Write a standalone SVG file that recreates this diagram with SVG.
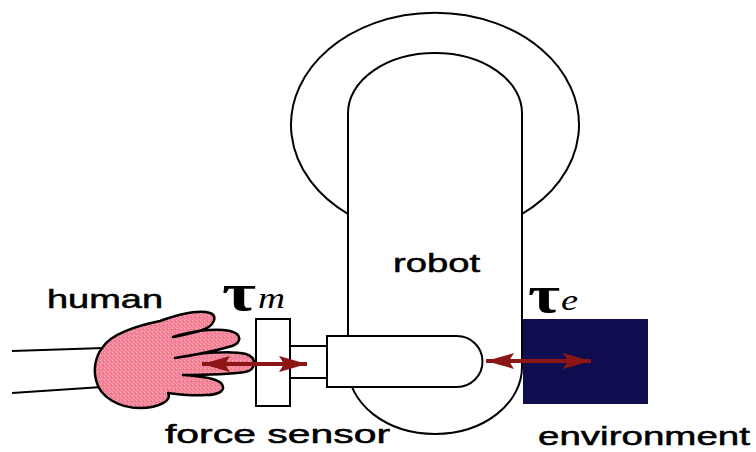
<svg xmlns="http://www.w3.org/2000/svg" width="756" height="452" viewBox="0 0 756 452">
  <style>
    .ol { fill: #ffffff; stroke: #000000; stroke-width: 2; }
    .ln { fill: none; stroke: #000000; stroke-width: 2; }
    .lbl { font-family: "Liberation Sans", Arial, sans-serif; font-size: 25px; fill: #000000; stroke: #000000; stroke-width: 0.5; }
    .tau { font-family: "Liberation Serif", "Times New Roman", serif; font-weight: bold; fill: #000000; }
    .sub { font-family: "Liberation Serif", "Times New Roman", serif; font-style: italic; fill: #000000; }
    .arr { fill: none; stroke: #8c1616; stroke-width: 4; }
  </style>
  <defs>
    <marker id="head" markerUnits="userSpaceOnUse" markerWidth="30" markerHeight="16" refX="28" refY="8" orient="auto-start-reverse">
      <path d="M0,0 L28,8 L0,16 L5,8 Z" fill="#8c1616"/>
    </marker>
    <pattern id="skin" patternUnits="userSpaceOnUse" width="4" height="4">
      <rect width="4" height="4" fill="#f3829f"/>
      <rect x="0" y="0" width="1" height="1" fill="#f9c47e"/>
      <rect x="2" y="2" width="1" height="1" fill="#f7a98a"/>
      <rect x="3" y="1" width="1" height="1" fill="#ea5f92"/>
      <rect x="1" y="3" width="1" height="1" fill="#f590b0"/>
    </pattern>
  </defs>
  <rect width="756" height="452" fill="#ffffff"/>

  <g id="human">
    <path class="ln" d="M12,351 L104,348"/>
    <path class="ln" d="M12,393 L102,387"/>
    <path d="M103,347 C110,335 135,326 160,321 C180,314 200,310 210,313 C218,316 214,325 205,329 C195,333 183,335 173,337 C190,331 215,328 230,331 C242,334 242,342 232,346 C215,351 195,355 175,358 C200,353 230,350 246,354 C258,358 256,370 245,372 C225,375 200,375 183,375 C200,376 215,378 221,383 C227,390 220,395 205,395 C190,396 178,394 168,393 C172,400 160,408 140,408 C120,408 100,398 96,380 C93,368 96,355 103,347 Z" fill="url(#skin)" stroke="#000000" stroke-width="2.5" stroke-linejoin="round"/>
    <text class="lbl" x="47" y="308" textLength="116" lengthAdjust="spacingAndGlyphs">human</text>
  </g>

  <g id="force-sensor">
    <rect class="ol" x="256" y="319" width="34" height="87"/>
    <rect class="ol" x="290" y="346" width="38" height="32"/>
    <text class="lbl" x="165" y="443" textLength="225" lengthAdjust="spacingAndGlyphs">force sensor</text>
  </g>

  <g id="robot">
    <path class="ln" d="M348,214 A144,112 0 1 1 522,214"/>
    <path class="ol" d="M348,113 A87,60 0 0 1 522,113 L522,367 A87,67 0 0 1 348,367 Z"/>
    <path class="ol" d="M327,336 L457,336 A25.5,25.5 0 0 1 457,387 L327,387 Z"/>
    <text class="lbl" x="393" y="272" style="font-size:26px" textLength="87" lengthAdjust="spacingAndGlyphs">robot</text>
  </g>

  <g id="environment">
    <rect x="523" y="319" width="125" height="85" fill="#0d0d4f"/>
    <text class="lbl" x="538" y="445" textLength="212" lengthAdjust="spacingAndGlyphs">environment</text>
  </g>

  <g id="labels">
    <text class="tau" x="222" y="310" style="font-size:52px" textLength="34" lengthAdjust="spacingAndGlyphs">τ</text>
    <text class="sub" x="258" y="308" style="font-size:29px" textLength="27" lengthAdjust="spacingAndGlyphs">m</text>
    <text class="tau" x="528" y="312" style="font-size:52px" textLength="32" lengthAdjust="spacingAndGlyphs">τ</text>
    <text class="sub" x="561" y="310" style="font-size:29px" textLength="17" lengthAdjust="spacingAndGlyphs">e</text>
  </g>

  <g id="connectors">
    <line class="arr" x1="202" y1="364" x2="307" y2="364" marker-start="url(#head)" marker-end="url(#head)"/>
    <line class="arr" x1="486" y1="361" x2="591" y2="361" marker-start="url(#head)" marker-end="url(#head)"/>
  </g>
</svg>
